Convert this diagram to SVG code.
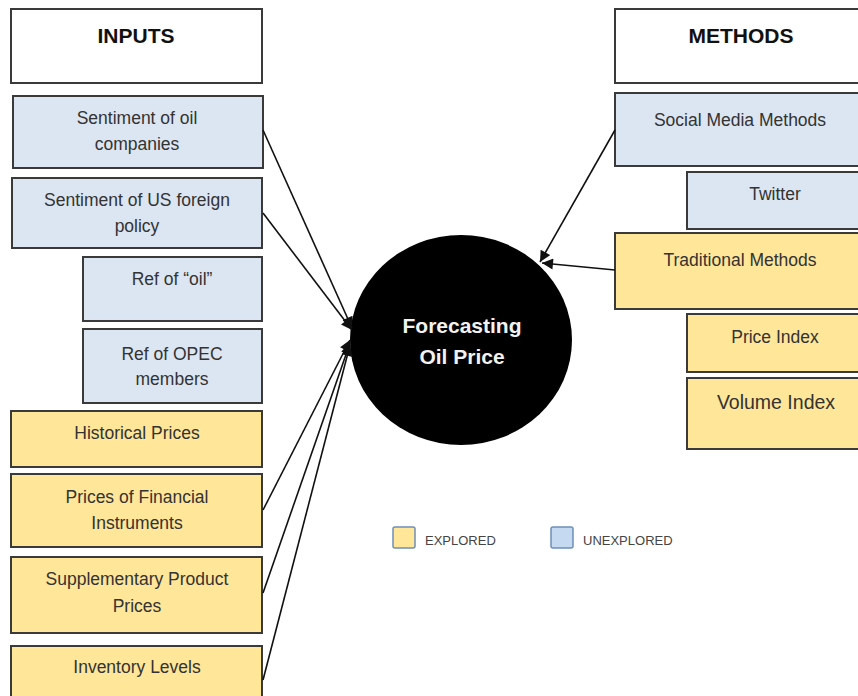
<svg xmlns="http://www.w3.org/2000/svg" width="858" height="696" viewBox="0 0 858 696">
  <style>
    .box { stroke: #3a3a3a; stroke-width: 2; }
    .head { fill: #ffffff; }
    .unexp { fill: #dce6f2; }
    .exp { fill: #ffe699; }
    .lbl { font-family: "Liberation Sans", Arial, sans-serif; font-size: 17.5px; fill: #333333; text-anchor: middle; }
    .ttl { font-family: "Liberation Sans", Arial, sans-serif; font-size: 21px; font-weight: bold; fill: #111111; text-anchor: middle; }
    .conn { stroke: #111111; stroke-width: 1.6; fill: none; marker-end: url(#arrow); }
    .leg { font-family: "Liberation Sans", Arial, sans-serif; font-size: 13px; fill: #444444; }
  </style>
  <defs>
    <marker id="arrow" viewBox="0 0 10 10" refX="10" refY="5" markerWidth="12" markerHeight="11" markerUnits="userSpaceOnUse" orient="auto">
      <path d="M0,0 L10,5 L0,10 z" fill="#111111"/>
    </marker>
  </defs>
  <rect width="858" height="696" fill="#ffffff"/>

  <!-- Left column: inputs -->
  <g id="inputs">
    <rect class="box head" x="11" y="9" width="251" height="74"/>
    <text class="ttl" x="136" y="43">INPUTS</text>
  </g>
  <g id="sent-oil">
    <rect class="box unexp" x="13" y="96" width="250" height="72"/>
    <text class="lbl" x="137" y="124">Sentiment of oil</text>
    <text class="lbl" x="137" y="150">companies</text>
  </g>
  <g id="sent-us">
    <rect class="box unexp" x="12" y="178" width="250" height="70"/>
    <text class="lbl" x="137" y="206">Sentiment of US foreign</text>
    <text class="lbl" x="137" y="232">policy</text>
  </g>
  <g id="ref-oil">
    <rect class="box unexp" x="83" y="257" width="179" height="64"/>
    <text class="lbl" x="172" y="285">Ref of  “oil”</text>
  </g>
  <g id="ref-opec">
    <rect class="box unexp" x="83" y="329" width="179" height="74"/>
    <text class="lbl" x="172" y="360">Ref of OPEC</text>
    <text class="lbl" x="172" y="385">members</text>
  </g>
  <g id="hist">
    <rect class="box exp" x="11" y="411" width="251" height="56"/>
    <text class="lbl" x="137" y="439">Historical Prices</text>
  </g>
  <g id="fin">
    <rect class="box exp" x="11" y="474" width="251" height="73"/>
    <text class="lbl" x="137" y="503">Prices of Financial</text>
    <text class="lbl" x="137" y="529">Instruments</text>
  </g>
  <g id="supp">
    <rect class="box exp" x="11" y="557" width="251" height="76"/>
    <text class="lbl" x="137" y="585">Supplementary  Product</text>
    <text class="lbl" x="137" y="612">Prices</text>
  </g>
  <g id="inv">
    <rect class="box exp" x="11" y="646" width="251" height="70"/>
    <text class="lbl" x="137" y="673">Inventory Levels</text>
  </g>

  <!-- Right column: methods -->
  <g id="methods">
    <rect class="box head" x="615" y="9" width="260" height="74"/>
    <text class="ttl" x="741" y="43">METHODS</text>
  </g>
  <g id="social">
    <rect class="box unexp" x="615" y="93" width="260" height="73"/>
    <text class="lbl" x="740" y="126">Social Media Methods</text>
  </g>
  <g id="twitter">
    <rect class="box unexp" x="687" y="172" width="190" height="57"/>
    <text class="lbl" x="775" y="200">Twitter</text>
  </g>
  <g id="trad">
    <rect class="box exp" x="615" y="233" width="260" height="76"/>
    <text class="lbl" x="740" y="266">Traditional Methods</text>
  </g>
  <g id="price-idx">
    <rect class="box exp" x="687" y="314" width="190" height="58"/>
    <text class="lbl" x="775" y="343">Price Index</text>
  </g>
  <g id="vol-idx">
    <rect class="box exp" x="687" y="378" width="190" height="71"/>
    <text class="lbl" x="776" y="409" style="font-size:19.5px">Volume Index</text>
  </g>

  <!-- Centre node -->
  <g id="forecast">
    <ellipse cx="461" cy="340" rx="111" ry="105" fill="#000000"/>
    <text x="462" y="333" text-anchor="middle" font-family="Liberation Sans, Arial, sans-serif" font-size="21" font-weight="bold" fill="#f2f2f2">Forecasting</text>
    <text x="462" y="364" text-anchor="middle" font-family="Liberation Sans, Arial, sans-serif" font-size="21" font-weight="bold" fill="#f2f2f2">Oil Price</text>
  </g>

  <!-- Connectors -->
  <g id="connectors">
    <line class="conn" x1="263" y1="130" x2="352" y2="328"/>
    <line class="conn" x1="263" y1="213" x2="352" y2="330"/>
    <line class="conn" x1="263" y1="510" x2="350" y2="340"/>
    <line class="conn" x1="263" y1="593" x2="350" y2="343"/>
    <line class="conn" x1="263" y1="680" x2="350" y2="345"/>
    <line class="conn" x1="615" y1="130" x2="540" y2="262"/>
    <line class="conn" x1="615" y1="270" x2="542" y2="263"/>
  </g>

  <!-- Legend -->
  <g id="legend">
    <rect x="393" y="527" width="22" height="21" rx="2" fill="#ffe699" stroke="#6d8fb8" stroke-width="1.5"/>
    <text class="leg" x="425" y="545">EXPLORED</text>
    <rect x="551" y="527" width="22" height="21" rx="2" fill="#c5d9f1" stroke="#6d8fb8" stroke-width="1.5"/>
    <text class="leg" x="583" y="545">UNEXPLORED</text>
  </g>
</svg>
